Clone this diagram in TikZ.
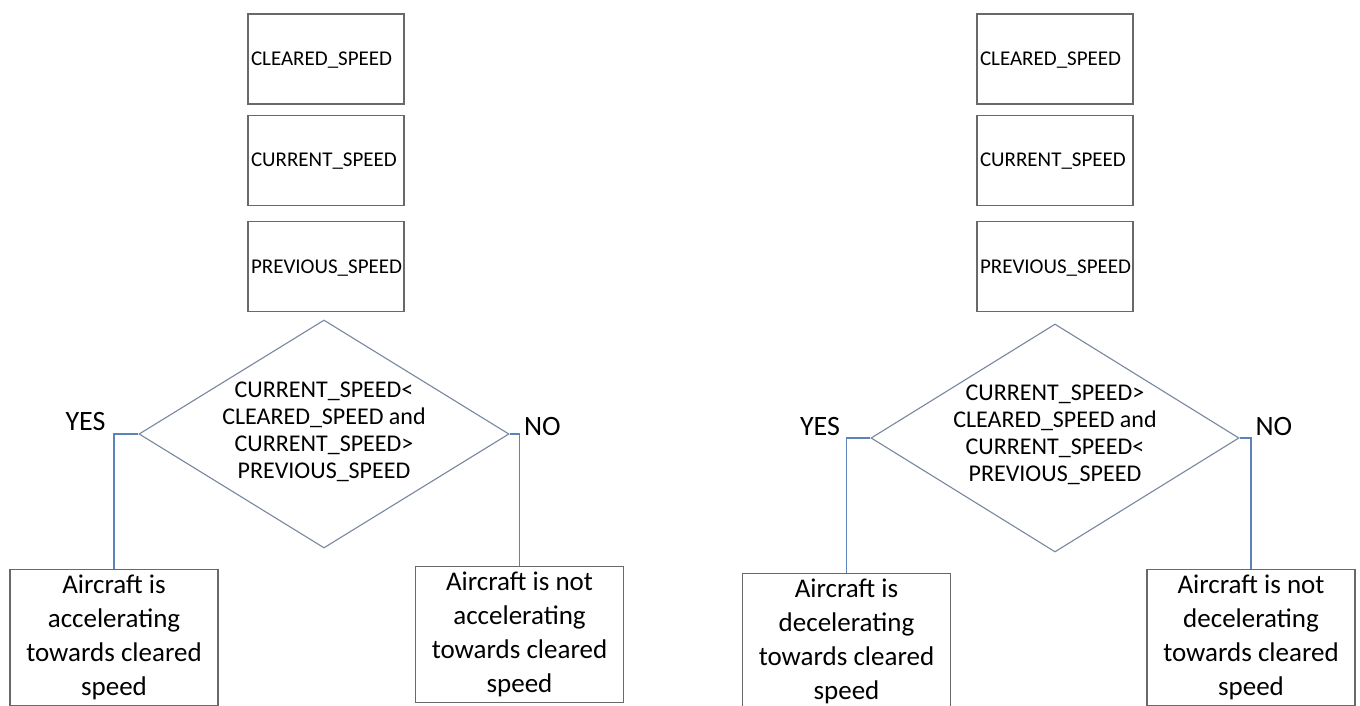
\documentclass[tikz,border=0pt]{standalone}
\usepackage{fontspec}
\setmainfont{Carlito}
\usetikzlibrary{positioning,shapes.geometric}

\definecolor{boxgray}{RGB}{105,105,105}
\definecolor{diagray}{RGB}{120,134,158}
\definecolor{linkblue}{RGB}{92,132,184}

\begin{document}
\begin{tikzpicture}[x=1pt, y=-1pt,
      var/.style={draw=boxgray, line width=1.1pt, minimum height=90pt,
                  text width=150pt, inner xsep=3pt, align=left, text depth=0pt,
                  font=\fontsize{21}{25}\selectfont},
      decision/.style={draw=diagray, line width=1.1pt, diamond, inner sep=0pt,
                       minimum width=370pt, minimum height=228pt},
      cond/.style={align=center, font=\fontsize{24}{27}\selectfont},
      result/.style={draw=boxgray, line width=1.1pt, anchor=north, inner ysep=0pt,
                     minimum width=208pt, minimum height=136pt, align=center,
                     font=\fontsize{27}{34}\selectfont},
      answer/.style={font=\fontsize{28}{32}\selectfont},
      conn/.style={draw=linkblue, line width=1.1pt},
    ]
    \useasboundingbox (0,0) rectangle (1360,706);
    \clip (0,0) rectangle (1360,706);

    % acceleration check
    \node[var] (clr1) at (326,59) {CLEARED\_SPEED};
    \node[var, below=10pt of clr1] (cur1) {CURRENT\_SPEED};
    \node[var, below=15pt of cur1] (prv1) {PREVIOUS\_SPEED};
    \node[decision] (dec1) at (324,434) {};
    \node[cond, yshift=2pt] (txt1) at (dec1)
      {CURRENT\_SPEED<\\CLEARED\_SPEED and\\CURRENT\_SPEED>\\PREVIOUS\_SPEED};
    \node[result] (acc1) at (114,569) {Aircraft is\\accelerating\\towards cleared\\speed};
    \node[result] (nacc1) at (519.5,566) {Aircraft is not\\accelerating\\towards cleared\\speed};

    \draw[conn] (dec1.west) -| (acc1.north);
    \draw[conn] (dec1.east) -| (nacc1.north);
    \node[answer, anchor=base east, xshift=-5pt, yshift=4pt] (yes1) at (dec1.west -| acc1.north) {YES};
    \node[answer, anchor=base west, xshift=1pt, yshift=-1pt] (no1) at (dec1.east -| nacc1.north) {NO};

    % deceleration check
    \node[var] (clr2) at (1055,59) {CLEARED\_SPEED};
    \node[var, below=10pt of clr2] (cur2) {CURRENT\_SPEED};
    \node[var, below=15pt of cur2] (prv2) {PREVIOUS\_SPEED};
    \node[decision, minimum width=368pt] (dec2) at (1055,438) {};
    \node[cond, yshift=3pt] (txt2) at (dec2)
      {CURRENT\_SPEED>\\CLEARED\_SPEED and\\CURRENT\_SPEED<\\PREVIOUS\_SPEED};
    \node[result] (dec2y) at (846.5,573) {Aircraft is\\decelerating\\towards cleared\\speed};
    \node[result] (dec2n) at (1251,569) {Aircraft is not\\decelerating\\towards cleared\\speed};

    \draw[conn] (dec2.west) -| (dec2y.north);
    \draw[conn] (dec2.east) -| (dec2n.north);
    \node[answer, anchor=base east, xshift=-3pt, yshift=3pt] (yes2) at (dec2.west -| dec2y.north) {YES};
    \node[answer, anchor=base west, xshift=1pt, yshift=3pt] (no2) at (dec2.east -| dec2n.north) {NO};
  \end{tikzpicture}
\end{document}
